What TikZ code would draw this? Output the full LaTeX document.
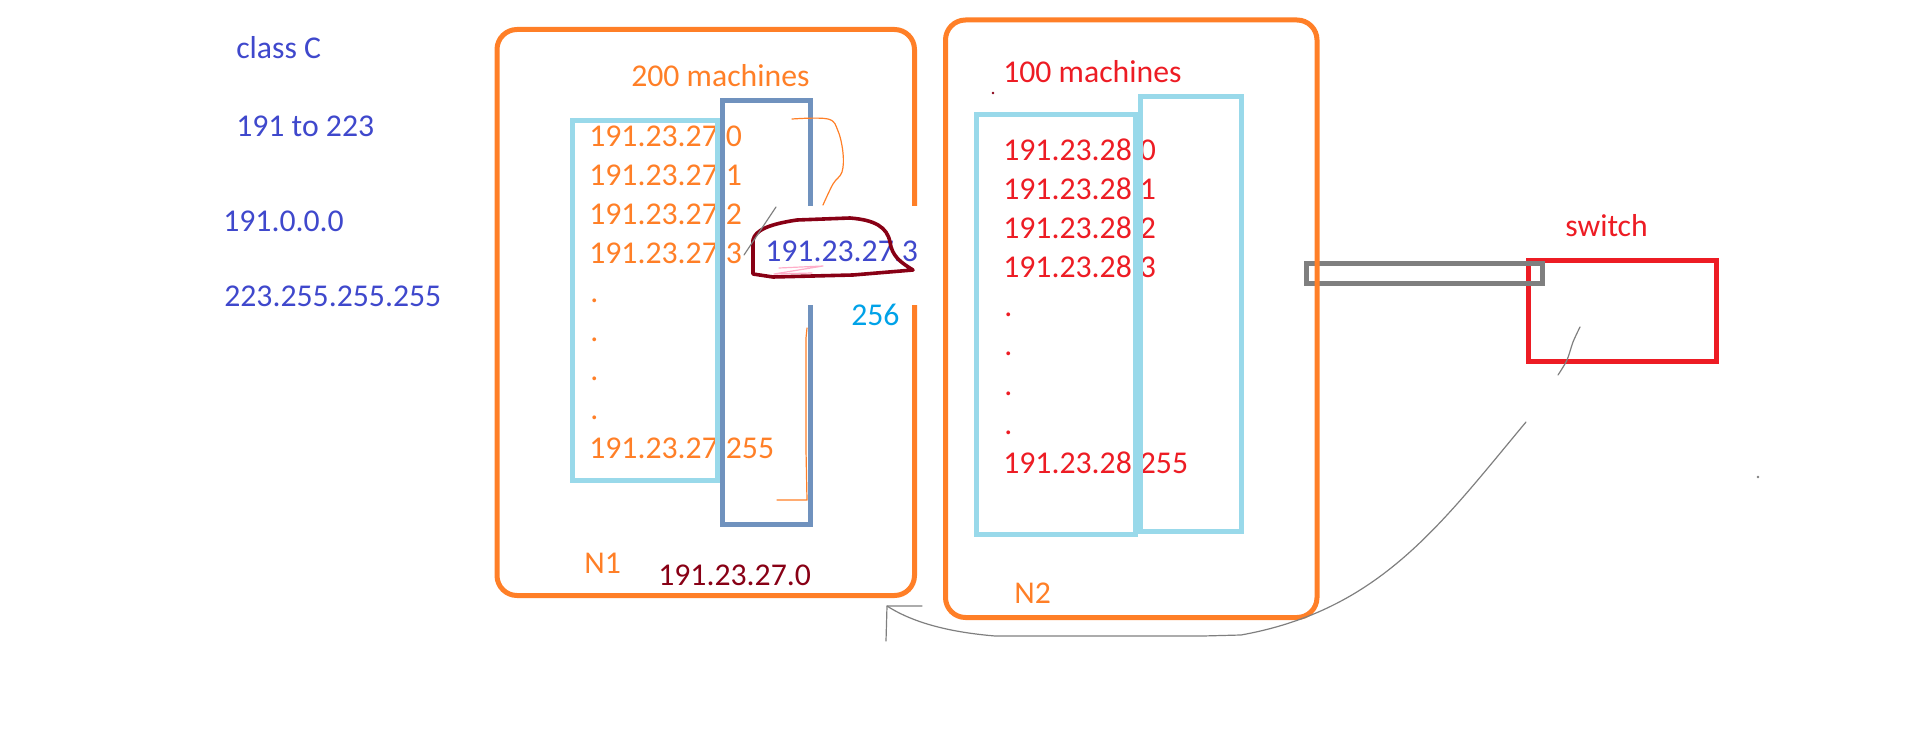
\documentclass[tikz,border=0pt]{standalone}
\usepackage{fontspec}
\setmainfont{Carlito}
\definecolor{paintorange}{HTML}{FF7F27}
\definecolor{paintred}{HTML}{ED1C24}
\definecolor{paintcyan}{HTML}{99D9EA}
\definecolor{paintsteel}{HTML}{7092BE}
\definecolor{paintindigo}{HTML}{3F48CC}
\definecolor{paintturq}{HTML}{00A2E8}
\definecolor{paintmaroon}{HTML}{880015}
\definecolor{paintgray}{HTML}{7F7F7F}
\definecolor{paintrose}{HTML}{FFAEC9}

\begin{document}
\begin{tikzpicture}[x=0.75pt, y=-0.75pt,
    lbl/.style={anchor=base west, inner sep=0pt, font=\fontsize{23.8}{28}\selectfont},
    netbox/.style={draw=paintorange, line width=3.75pt, rounded corners=15pt},
    listbox/.style={draw=paintcyan, line width=3.75pt},
    pen/.style={line width=0.9pt, line cap=round, line join=round}
]
\useasboundingbox (0,0) rectangle (1914,734);

% class C range
\node[lbl, text=paintindigo] (cls) at (236,59) {class C};
\node[lbl, text=paintindigo] (range) at (236,137) {191 to 223};
\node[lbl, text=paintindigo] (lowip) at (223,232) {191.0.0.0};
\node[lbl, text=paintindigo] (highip) at (224,307) {223.255.255.255};

% host lists
\foreach \row/\host in {0/0,1/1,2/2,3/3,8/255} {
  \node[lbl, text=paintorange] (na\host) at (589,{147+38.9*\row}) {191.23.27.\host};
  \node[lbl, text=paintred] (nb\host) at (1003,{161+39*\row}) {191.23.28.\host};
}
\foreach \row in {4,...,7} {
  \node[lbl, text=paintorange] (nadot\row) at (590,{147+38.9*\row}) {.};
  \node[lbl, text=paintred] (nbdot\row) at (1004,{161+39*\row}) {.};
}

% address blocks
\draw[listbox] (572.5,120.5) rectangle (717.5,480.5);
\draw[draw=paintsteel, line width=3.75pt] (722.5,100.5) rectangle (810.5,524.5);
\draw[listbox] (976.5,114.5) rectangle (1135.5,534.5);
\draw[listbox] (1140.5,96.5) rectangle (1241.5,531);

% switch and link
\draw[draw=paintred, line width=3.75pt] (1528.5,260.5) rectangle (1716.5,361.5);
\draw[draw=paintgray, line width=3.6pt] (1306.5,263.5) rectangle (1542.5,283.5);
\node[lbl, text=paintred] (switch) at (1565,237) {switch};

% networks
\draw[netbox] (497,29.5) rectangle (914.5,595.5);
\draw[netbox] (945.5,20) rectangle (1317,617.5);
\fill[white] (795,206) rectangle (941,305);

\node[lbl, text=paintorange] (n1cnt) at (631,87) {200 machines};
\node[lbl, text=paintred] (n2cnt) at (1003,83) {100 machines};
\node[lbl, text=paintorange] (n1) at (584,573) {N1};
\node[lbl, text=paintorange] (n2) at (1014,603) {N2};
\node[lbl, text=paintmaroon] (n1addr) at (658,585) {191.23.27.0};
\node[lbl, text=paintturq] (total) at (851,326) {256};

% picked host
\node[lbl, text=paintindigo] (pick) at (765,262) {191.23.27.3};
\draw[paintmaroon, line width=2.7pt, line join=round]
  (753,274) -- (753,240) .. controls (755,230) and (770,224) .. (797,220)
  -- (850,218) .. controls (875,220) and (887,227) .. (890,242)
  .. controls (892,256) and (900,262) .. (913,270) -- (853,275) -- (773,277) -- cycle;
\draw[pen, paintrose] (779,268) -- (823,266) -- (774,274) -- (812,273);
\draw[pen, paintgray] (776,207) -- (744,255);

% brackets
\draw[pen, paintorange] plot[smooth, tension=0.6] coordinates
  {(792,119) (828,119) (838,131) (843,153) (842,172) (833,184) (823,205)};
\draw[pen, paintorange] (807,328) -- (806,338) -- (806,450) -- (807,500) -- (777,500);

% return path
\coordinate (swtail) at (1580,327);
\coordinate (swgap) at (1558,375);
\coordinate (pathin) at (1526,422);
\coordinate (n1hook) at (887,606);
\draw[pen, paintgray] plot[smooth] coordinates {(swtail) (1573,342) (1567,360) (swgap)};
\draw[pen, paintgray] (pathin) .. controls (1440,525) and (1380,610) .. (1241,635)
  -- (1203,636) -- (995,636) .. controls (960,633) and (918,626) .. (n1hook);
\draw[pen, paintgray] (886,641) -- (n1hook) -- (922,606);

% specks
\fill[paintmaroon] (993,93) circle (1.3);
\fill[paintgray] (1758,477) circle (1.3);
\end{tikzpicture}
\end{document}
